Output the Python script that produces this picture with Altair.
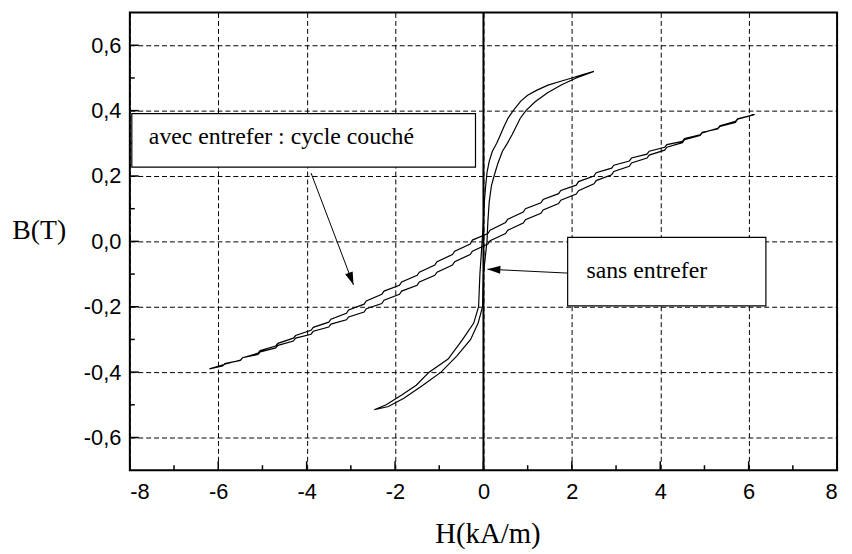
import math
import altair as alt
import pandas as pd

# ---------------- data ----------------
# loop without air gap ("sans entrefer"): descending branch, then ascending branch
sans_desc_H = [2.50, 2.25, 2.00, 1.75, 1.46, 1.20, 1.00, 0.85, 0.70, 0.56, 0.46, 0.38, 0.30, 0.20,
               0.13, 0.08, 0.05, 0.02, 0.00, -0.03, -0.06, -0.08, -0.11, -0.22, -0.47, -0.80, -1.23,
               -1.52, -1.85, -2.20, -2.47]
sans_desc_B = [0.520, 0.510, 0.500, 0.490, 0.478, 0.462, 0.447, 0.430, 0.405, 0.378, 0.350, 0.325,
               0.300, 0.275, 0.245, 0.210, 0.170, 0.120, 0.060, 0.000, -0.060, -0.100, -0.200, -0.250,
               -0.300, -0.360, -0.400, -0.440, -0.470, -0.500, -0.515]
sans_asc_H = [-2.15, -1.80, -1.37, -0.96, -0.60, -0.29, -0.12, -0.02, 0.00, 0.04, 0.08, 0.10, 0.13,
              0.18, 0.24, 0.33, 0.43, 0.54, 0.65, 0.83, 0.96, 1.17, 1.45, 1.77, 2.10, 2.50]
sans_asc_B = [-0.505, -0.480, -0.440, -0.400, -0.350, -0.300, -0.250, -0.200, -0.100, -0.050, 0.000,
              0.060, 0.120, 0.170, 0.200, 0.240, 0.276, 0.300, 0.327, 0.376, 0.400, 0.427, 0.455, 0.479,
              0.500, 0.520]

# loop with air gap ("avec entrefer : cycle couché"): descending (upper) then ascending (lower)
avec_desc_H = [6.13, 5.75, 5.70, 5.35, 5.30, 4.95, 4.90, 4.55, 4.50, 4.15, 4.10, 3.75, 3.70, 3.35, 3.30,
               2.95, 2.90, 2.55, 2.50, 2.15, 2.10, 1.75, 1.70, 1.35, 1.30, 0.95, 0.90, 0.55, 0.50, 0.15,
               0.10, -0.25, -0.30, -0.65, -0.70, -1.05, -1.10, -1.45, -1.50, -1.85, -1.90, -2.25, -2.30,
               -2.65, -2.70, -3.05, -3.10, -3.45, -3.50, -3.85, -3.90, -4.25, -4.30, -4.65, -4.70, -5.05,
               -5.10, -5.45, -5.50, -5.85, -6.20]
avec_desc_B = [0.388, 0.374, 0.364, 0.352, 0.344, 0.334, 0.326, 0.315, 0.306, 0.296, 0.288, 0.276, 0.267,
               0.255, 0.246, 0.233, 0.224, 0.210, 0.200, 0.183, 0.172, 0.156, 0.146, 0.128, 0.118, 0.100,
               0.090, 0.068, 0.058, 0.034, 0.024, 0.004, -0.008, -0.030, -0.040, -0.062, -0.072, -0.094,
               -0.104, -0.124, -0.134, -0.152, -0.162, -0.182, -0.192, -0.210, -0.220, -0.238, -0.247,
               -0.263, -0.272, -0.288, -0.296, -0.312, -0.320, -0.334, -0.342, -0.356, -0.363, -0.376,
               -0.390]
avec_asc_H = [-5.90, -5.85, -5.50, -5.45, -5.10, -5.05, -4.70, -4.65, -4.30, -4.25, -3.90, -3.85, -3.50,
              -3.45, -3.10, -3.05, -2.70, -2.65, -2.30, -2.25, -1.90, -1.85, -1.50, -1.45, -1.10, -1.05,
              -0.70, -0.65, -0.30, -0.25, 0.10, 0.15, 0.50, 0.55, 0.90, 0.95, 1.30, 1.35, 1.70, 1.75,
              2.10, 2.15, 2.50, 2.55, 2.90, 2.95, 3.30, 3.35, 3.70, 3.75, 4.10, 4.15, 4.50, 4.55, 4.90,
              4.95, 5.30, 5.35, 5.70, 5.75, 6.13]
avec_asc_B = [-0.381, -0.374, -0.364, -0.356, -0.346, -0.338, -0.326, -0.318, -0.305, -0.296, -0.284,
              -0.275, -0.262, -0.253, -0.240, -0.231, -0.216, -0.206, -0.190, -0.180, -0.162, -0.152,
              -0.134, -0.124, -0.104, -0.094, -0.072, -0.062, -0.040, -0.030, -0.008, 0.002, 0.024,
              0.034, 0.056, 0.066, 0.086, 0.096, 0.116, 0.126, 0.145, 0.155, 0.176, 0.186, 0.204, 0.214,
              0.230, 0.240, 0.255, 0.264, 0.279, 0.288, 0.302, 0.311, 0.324, 0.332, 0.346, 0.354, 0.367,
              0.375, 0.388]

# axis ticks
x_major = [-8, -6, -4, -2, 0, 2, 4, 6, 8]
x_minor = [-7, -5, -3, -1, 1, 3, 5, 7]
y_major = [-0.6, -0.4, -0.2, 0.0, 0.2, 0.4, 0.6]
y_minor = [-0.5, -0.3, -0.1, 0.1, 0.3, 0.5]

# annotations (data units)
box_text = ["avec entrefer : cycle couché", "sans entrefer"]
box_H1 = [-7.955, 1.905]
box_H2 = [-0.18, 6.39]
box_B1 = [0.391, 0.012]
box_B2 = [0.227, -0.197]
text_H = [-7.57, 2.33]
text_B = [0.297, -0.112]
arrow_H1 = [-3.90, 1.905]
arrow_B1 = [0.209, -0.097]
arrow_H2 = [-2.94, 0.09]
arrow_B2 = [-0.133, -0.085]

# ---------------- layout ----------------
W, HGT = 714, 462
px_H = W / 16.0
px_B = HGT / 1.4

rows = []
i = 0
for name, hs, bs in [("sans", sans_desc_H + sans_asc_H, sans_desc_B + sans_asc_B),
                     ("avec", avec_desc_H + avec_asc_H, avec_desc_B + avec_asc_B)]:
    for h, b in zip(hs, bs):
        rows.append({"loop": name, "i": i, "H": h, "B": b})
        i += 1
loops = pd.DataFrame(rows)

boxes = pd.DataFrame({"t": box_text, "h1": box_H1, "h2": box_H2, "b1": box_B1, "b2": box_B2,
                      "th": text_H, "tb": text_B})
angles = []
for h1, b1, h2, b2 in zip(arrow_H1, arrow_B1, arrow_H2, arrow_B2):
    dx = (h2 - h1) * px_H
    dy = -(b2 - b1) * px_B
    angles.append(math.degrees(math.atan2(dx, -dy)) % 360)
arrows = pd.DataFrame({"h1": arrow_H1, "b1": arrow_B1, "h2": arrow_H2, "b2": arrow_B2, "ang": angles})

xs = alt.Scale(domain=[-8, 8], nice=False, zero=False)
ys = alt.Scale(domain=[-0.7, 0.7], nice=False, zero=False)

sans_font = "Liberation Sans"
serif_font = "Liberation Serif"

x_axis = alt.Axis(values=x_major, grid=True, gridDash=[5, 3], gridColor="black", gridOpacity=1,
                  gridWidth=1, ticks=False, tickSize=0, domain=False,
                  labelExpr="(datum.value < 0 ? '-' : '') + abs(datum.value)",
                  labelFont=sans_font, labelFontSize=22, labelColor="black", labelPadding=12,
                  title="H(kA/m)", titleFont=serif_font, titleFontSize=29, titleFontWeight="normal",
                  titleColor="black", titleX=361, titleY=73, titleAlign="center",
                  titleBaseline="alphabetic")
y_axis = alt.Axis(values=y_major, grid=True, gridDash=[5, 3], gridColor="black", gridOpacity=1,
                  gridWidth=1, ticks=False, tickSize=0, domain=False,
                  labelExpr="replace((datum.value < 0 ? '-' : '') + format(abs(datum.value), '.1f'), '.', ',')",
                  labelFont=sans_font, labelFontSize=22, labelColor="black", labelPadding=9,
                  title="B(T)", titleFont=serif_font, titleFontSize=28, titleFontWeight="normal",
                  titleColor="black", titleAngle=0, titleX=-92, titleY=228, titleAlign="center",
                  titleBaseline="alphabetic")

curves = alt.Chart(loops).mark_line(color="black", strokeWidth=1.2).encode(
    x=alt.X("H:Q", scale=xs, axis=x_axis),
    y=alt.Y("B:Q", scale=ys, axis=y_axis),
    detail="loop:N",
    order="i:Q",
)

zero_line = alt.Chart(pd.DataFrame({"H": [0]})).mark_rule(color="black", strokeWidth=2).encode(
    x=alt.X("H:Q", scale=xs, axis=x_axis)
)

xt_major = alt.Chart(pd.DataFrame({"v": x_major})).mark_rule(color="black", strokeWidth=1.5).encode(
    x=alt.X("v:Q", scale=xs, axis=x_axis), y=alt.value(HGT), y2=alt.value(HGT - 9))
xt_minor = alt.Chart(pd.DataFrame({"v": x_minor})).mark_rule(color="black", strokeWidth=1.5).encode(
    x=alt.X("v:Q", scale=xs, axis=x_axis), y=alt.value(HGT), y2=alt.value(HGT - 5))
yt_major = alt.Chart(pd.DataFrame({"v": y_major})).mark_rule(color="black", strokeWidth=1.5).encode(
    y=alt.Y("v:Q", scale=ys, axis=y_axis), x=alt.value(0), x2=alt.value(9))
yt_minor = alt.Chart(pd.DataFrame({"v": y_minor})).mark_rule(color="black", strokeWidth=1.5).encode(
    y=alt.Y("v:Q", scale=ys, axis=y_axis), x=alt.value(0), x2=alt.value(5))

rects = alt.Chart(boxes).mark_rect(fill="white", stroke="black", strokeWidth=1.2).encode(
    x=alt.X("h1:Q", scale=xs, axis=x_axis), x2="h2:Q",
    y=alt.Y("b1:Q", scale=ys, axis=y_axis), y2="b2:Q")
texts = alt.Chart(boxes).mark_text(align="left", baseline="alphabetic", font=serif_font,
                                   fontSize=24, color="black").encode(
    x=alt.X("th:Q", scale=xs, axis=x_axis), y=alt.Y("tb:Q", scale=ys, axis=y_axis), text="t:N")

arrow_lines = alt.Chart(arrows).mark_rule(color="black", strokeWidth=1).encode(
    x=alt.X("h1:Q", scale=xs, axis=x_axis), x2="h2:Q",
    y=alt.Y("b1:Q", scale=ys, axis=y_axis), y2="b2:Q")
arrow_heads = alt.Chart(arrows).mark_point(shape="M0,0L-0.62,2L0.62,2Z", filled=True, size=169,
                                           color="black", opacity=1, strokeWidth=0).encode(
    x=alt.X("h2:Q", scale=xs, axis=x_axis), y=alt.Y("b2:Q", scale=ys, axis=y_axis),
    angle=alt.Angle("ang:Q", scale=None))

chart = alt.layer(
    curves, zero_line, xt_major, xt_minor, yt_major, yt_minor, rects, texts, arrow_lines, arrow_heads
).properties(
    width=W, height=HGT,
    autosize=alt.AutoSizeParams(type="none"),
    padding={"left": 123, "top": 2, "right": 7, "bottom": 84},
).configure(background="white").configure_view(stroke="black", strokeWidth=2)

chart.save("out.html", embed_options={"renderer": "svg", "actions": False})
